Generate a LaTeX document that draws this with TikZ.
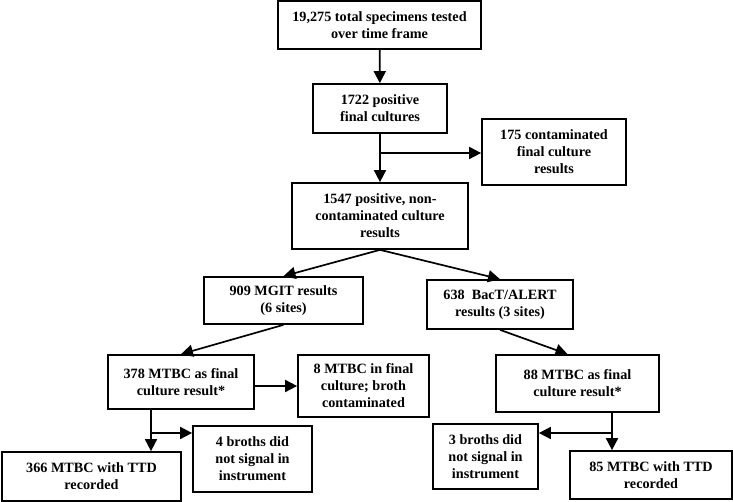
\documentclass[tikz,border=0pt]{standalone}
\usepackage{fontspec}
\setmainfont{Liberation Serif}
\usetikzlibrary{arrows.meta}

\tikzset{
  caja/.style={draw, line width=1.7pt, inner sep=0pt, align=center,
    font=\fontsize{14.2}{17}\selectfont\bfseries},
  flecha/.style={line width=1.7pt, -{Triangle[length=12pt,width=12pt]}},
  linea/.style={line width=1.7pt}
}

\begin{document}
\begin{tikzpicture}[x=1pt,y=-1pt]
\useasboundingbox (0,0) rectangle (733,502);

%Cajas de arriba
\node[caja, minimum width=203pt, minimum height=48pt] (total) at (379.5,25) {19,275 total specimens tested\\over time frame};
\node[caja, minimum width=134pt, minimum height=49pt] (positivos) at (380,108.5) {1722 positive\\final cultures};
\node[caja, minimum width=144pt, minimum height=66pt] (contam) at (554,152) {175 contaminated\\final culture\\results};
\node[caja, minimum width=176pt, minimum height=66pt] (limpios) at (380,216) {1547 positive, non-\\contaminated culture\\results};

%Ramas MGIT y BacT
\node[caja, minimum width=159pt, minimum height=47pt] (mgit) at (283.5,300.5) {909 MGIT results\\(6 sites)};
\node[caja, minimum width=146pt, minimum height=49pt] (bact) at (500,304.5) {638~ BacT/ALERT\\results (3 sites)};

%Resultados MGIT
\node[caja, minimum width=146pt, minimum height=54pt] (mtbcA) at (181,382) {378 MTBC as final\\culture result*};
\node[caja, minimum width=131pt, minimum height=62pt] (caldoA) at (363.5,386) {8 MTBC in final\\culture; broth\\contaminated};
\node[caja, minimum width=179pt, minimum height=49pt] (ttdA) at (91.5,476.5) {366 MTBC with TTD\\recorded};
\node[caja, minimum width=119pt, minimum height=66pt] (senalA) at (252.5,459) {4 broths did\\not signal in\\instrument};

%Resultados BacT
\node[caja, minimum width=163pt, minimum height=57pt] (mtbcB) at (577.5,383.5) {88 MTBC as final\\culture result*};
\node[caja, minimum width=105pt, minimum height=65pt] (senalB) at (485.5,456.5) {3 broths did\\not signal in\\instrument};
\node[caja, minimum width=162pt, minimum height=48pt] (ttdB) at (651,475) {85 MTBC with TTD\\recorded};

%Puntos de union
\coordinate (cruce1) at (380,153);
\coordinate (cruceA) at (151,433);
\coordinate (cruceB) at (612,433);

%Flechas
\draw[flecha] (total) -- (positivos);
\draw[flecha] (positivos) -- (limpios);
\draw[flecha] (cruce1) -- (cruce1 -| contam.west);
\draw[flecha] (limpios.south) -- (mgit.north);
\draw[flecha] (limpios.south) -- (bact.north);
\draw[flecha] (mgit.south) -- (mtbcA.north);
\draw[flecha] (mtbcA.east |- caldoA.west) -- (caldoA.west);
\draw[flecha] (cruceA |- mtbcA.south) -- (cruceA |- ttdA.north);
\draw[flecha] (cruceA) -- (cruceA -| senalA.west);
\draw[flecha] (bact.south) -- ([xshift=-10pt]mtbcB.north);
\draw[flecha] (cruceB |- mtbcB.south) -- (cruceB |- ttdB.north);
\draw[flecha] (cruceB) -- (cruceB -| senalB.east);
\end{tikzpicture}
\end{document}
